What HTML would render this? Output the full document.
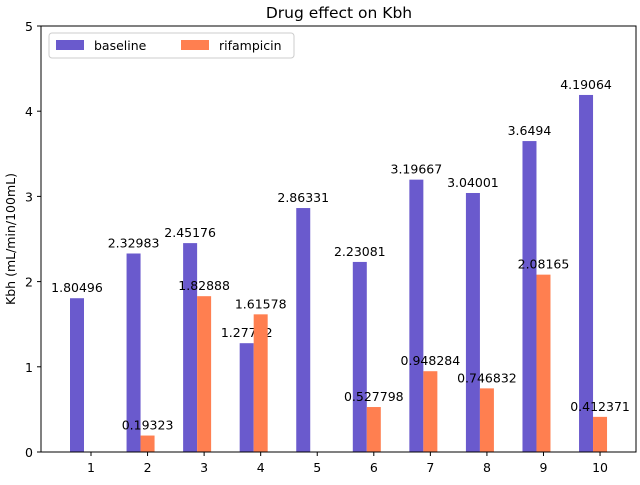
<!DOCTYPE html>
<html><head><meta charset="utf-8"><style>
body{margin:0;background:#fff}
svg{font-family:"DejaVu Sans","Liberation Sans",sans-serif}
</style></head><body>
<svg id="chart" width="640" height="480">
<rect x="0" y="0" width="640" height="480" fill="#fff"/>
<text x="339" y="18" text-anchor="middle" font-size="15.5">Drug effect on Kbh</text>
<g id="marks"></g>
<rect x="41" y="26" width="595" height="426" fill="none" stroke="#000" stroke-width="1"/>
<g id="axes"></g>
<text transform="translate(15,239) rotate(-90)" text-anchor="middle" font-size="12.5">Kbh (mL/min/100mL)</text>
<g>
<rect x="49" y="33" width="245" height="25" fill="#fff" stroke="#ccc" rx="3"/>
<rect x="56" y="40" width="28" height="10" fill="#6a5acd"/>
<text x="94" y="50" font-size="12.5">baseline</text>
<rect x="181" y="40" width="28" height="10" fill="#ff7f50"/>
<text x="219" y="50" font-size="12.5">rifampicin</text>
</g>
</svg>
<script>
const categories=[1,2,3,4,5,6,7,8,9,10];
const baseline=[1.80496,2.32983,2.45176,1.27712,2.86331,2.23081,3.19667,3.04001,3.6494,4.19064];
const rifampicin=[null,0.19323,1.82888,1.61578,null,0.527798,0.948284,0.746832,2.08165,0.412371];
const yTicks=[0,1,2,3,4,5];
const NS="http://www.w3.org/2000/svg";
const xS=v=>91+(v-1)*56.56;
const yS=v=>452-v*85.2;
const bw=14;
const marks=document.getElementById('marks'),axes=document.getElementById('axes');
function mk(t,a,p){const e=document.createElementNS(NS,t);for(const k in a)e.setAttribute(k,a[k]);p.appendChild(e);return e;}
function series(vals,off,color,name){
vals.forEach((v,i)=>{if(v===null)return;
const cx=xS(categories[i])+off;
const r=mk('rect',{x:cx-bw/2,y:yS(v),width:bw,height:yS(0)-yS(v),fill:color},marks);


const t=mk('text',{x:cx,y:yS(v)-6,'text-anchor':'middle','font-size':12.5},marks);
t.textContent=String(v);

});}
series(baseline,-14,'#6a5acd','baseline');
series(rifampicin,0,'#ff7f50','rifampicin');
yTicks.forEach(v=>{mk('line',{x1:37,x2:41,y1:yS(v),y2:yS(v),stroke:'#000'},axes);
const t=mk('text',{x:33,y:yS(v)+5,'text-anchor':'end','font-size':12.5},axes);t.textContent=v;

});
categories.forEach(c=>{mk('line',{x1:xS(c),x2:xS(c),y1:452,y2:456,stroke:'#000'},axes);
const t=mk('text',{x:xS(c),y:472,'text-anchor':'middle','font-size':12.5},axes);t.textContent=c;

});
</script>
</body></html>
